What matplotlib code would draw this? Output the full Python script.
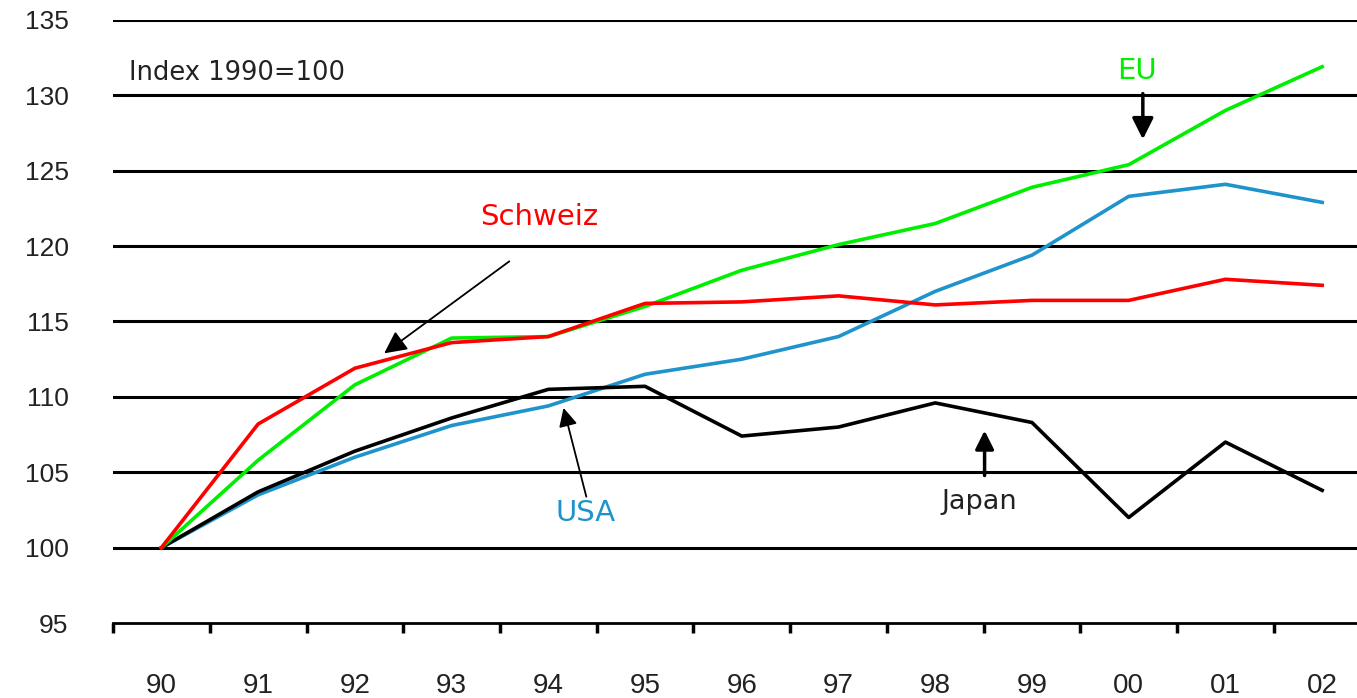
import matplotlib.pyplot as plt
from matplotlib.ticker import FixedLocator

plt.rcParams['font.family'] = ['Liberation Sans', 'DejaVu Sans']

years = ["90", "91", "92", "93", "94", "95", "96", "97", "98", "99", "00", "01", "02"]
eu = [100, 105.8, 110.8, 113.9, 114.0, 116.0, 118.4, 120.1, 121.5, 123.9, 125.4, 129.0, 131.9]
schweiz = [100, 108.2, 111.9, 113.6, 114.0, 116.2, 116.3, 116.7, 116.1, 116.4, 116.4, 117.8, 117.4]
usa = [100, 103.5, 106.0, 108.1, 109.4, 111.5, 112.5, 114.0, 117.0, 119.4, 123.3, 124.1, 122.9]
japan = [100, 103.7, 106.4, 108.6, 110.5, 110.7, 107.4, 108.0, 109.6, 108.3, 102.0, 107.0, 103.8]
y_ticks = [95, 100, 105, 110, 115, 120, 125, 130, 135]

fig = plt.figure(figsize=(13.57, 6.98), dpi=100)
ax = fig.add_axes([0.0833, 0.1074, 0.9167, 0.864])

x = list(range(len(years)))

# grid lines
for v in y_ticks[1:]:
    ax.axhline(v, color='black', linewidth=2.2, zorder=1)

ax.plot(x, usa, color='#1f93cc', linewidth=2.6, zorder=3)
ax.plot(x, japan, color='black', linewidth=2.6, zorder=4)
ax.plot(x, eu, color='#00ee00', linewidth=2.6, zorder=5)
ax.plot(x, schweiz, color='#ff0000', linewidth=2.6, zorder=6)

ax.set_xlim(-0.5, 12.36)
ax.set_ylim(95, 135)

for s in ['top', 'right', 'left']:
    ax.spines[s].set_visible(False)
ax.spines['bottom'].set_linewidth(2)

ax.xaxis.set_major_locator(FixedLocator([i - 0.5 for i in range(len(years) + 1)]))
ax.xaxis.set_minor_locator(FixedLocator(x))
ax.set_xticklabels([])
ax.set_xticklabels(years, minor=True)
ax.tick_params(axis='x', which='major', direction='out', length=7, width=2.5, color='black')
ax.tick_params(axis='x', which='minor', length=0, pad=36, labelsize=20, labelcolor='#222222')

ax.set_yticks(y_ticks)
ax.tick_params(axis='y', length=0, pad=32, labelsize=19, labelcolor='#222222')

lab = ['DejaVu Sans']
ax.text(-0.33, 131.5, "Index 1990=100", fontsize=18.5, family=lab, color='#222222', va='center', ha='left')

ax.text(10.09, 131.6, "EU", fontsize=21, family=lab, color='#00ee00', ha='center', va='center')
ax.text(3.91, 121.9, "Schweiz", fontsize=21, family=lab, color='#ff0000', ha='center', va='center')
ax.text(4.38, 102.3, "USA", fontsize=21, family=lab, color='#1f93cc', ha='center', va='center')
ax.text(8.45, 103.0, "Japan", fontsize=19.5, family=lab, color='#222222', ha='center', va='center')

ax.annotate("", xy=(10.146, 126.9), xytext=(10.146, 130.3),
            arrowprops=dict(arrowstyle='-|>', color='black', lw=2.5, mutation_scale=32))
ax.annotate("", xy=(2.28, 112.78), xytext=(3.62, 119.1),
            arrowprops=dict(arrowstyle='-|>', color='black', lw=1.3, mutation_scale=34))
ax.annotate("", xy=(4.15, 109.45), xytext=(4.40, 103.2),
            arrowprops=dict(arrowstyle='-|>', color='black', lw=1.3, mutation_scale=28))
ax.annotate("", xy=(8.51, 107.95), xytext=(8.51, 104.6),
            arrowprops=dict(arrowstyle='-|>', color='black', lw=2.5, mutation_scale=28))

fig.savefig("out.png", dpi=100)
